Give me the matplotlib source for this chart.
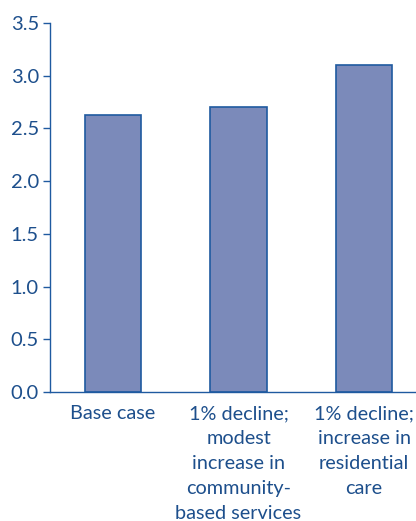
import matplotlib
matplotlib.use("Agg")
import matplotlib.pyplot as plt

categories = [
    "Base case",
    "1% decline;\nmodest\nincrease in\ncommunity-\nbased services",
    "1% decline;\nincrease in\nresidential\ncare",
]
values = [2.63, 2.70, 3.10]
yticks = [0.0, 0.5, 1.0, 1.5, 2.0, 2.5, 3.0, 3.5]

text_color = "#1d4f8c"
edge_color = "#1f5aa0"
bar_color = "#7b8aba"

plt.rcParams["font.family"] = ["Lato", "DejaVu Sans"]

fig = plt.figure(figsize=(4.16, 5.21), dpi=100)
ax = fig.add_axes([50 / 416, 129 / 521, 377 / 416, 369 / 521])

x = range(len(categories))
ax.bar(x, values, width=0.45, color=bar_color, edgecolor=edge_color, linewidth=1.2)

ax.set_xlim(-0.5, 2.5)
ax.set_ylim(0, 3.5)
ax.set_yticks(yticks)
ax.set_yticklabels([f"{v:.1f}" for v in yticks])
ax.set_xticks(list(x))
ax.set_xticklabels(categories, linespacing=1.57)

for s in ["top", "right"]:
    ax.spines[s].set_visible(False)
for s in ["left", "bottom"]:
    ax.spines[s].set_color(edge_color)
    ax.spines[s].set_linewidth(1.0)

ax.tick_params(axis="y", colors=edge_color, labelcolor=text_color, labelsize=14.5,
               length=5, width=1.0, direction="out", pad=3)
ax.tick_params(axis="x", length=0, labelcolor=text_color, labelsize=14.3, pad=9.5)

fig.savefig("out.png", dpi=100)
